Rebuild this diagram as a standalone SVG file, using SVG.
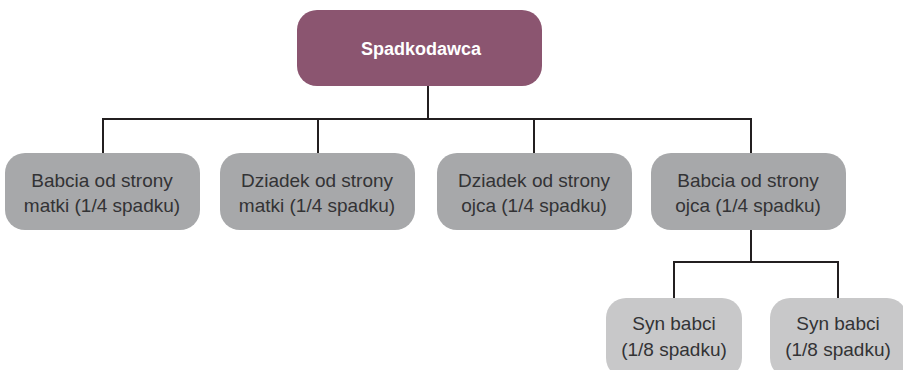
<svg xmlns="http://www.w3.org/2000/svg" width="903" height="370" viewBox="0 0 903 370">
<style>
.l2{fill:#a7a8aa}
.l3{fill:#c8c8c9}
.t{font-family:"Liberation Sans",Arial,sans-serif;font-size:19px;fill:#333335;text-anchor:middle}
.tb{font-family:"Liberation Sans",Arial,sans-serif;font-size:18px;font-weight:bold;fill:#ffffff;text-anchor:middle}
.c{fill:none;stroke:#231f20;stroke-width:2}
</style>
<rect width="903" height="370" fill="#ffffff"/>
<g id="connectors">
<path class="c" d="M428 86V119M103 153V119H751V153M318 119V153M534 119V153"/>
<path class="c" d="M751 229V262M674 298V262H838V298"/>
</g>
<g id="spadkodawca">
<rect x="297" y="10" width="245" height="76" rx="20" fill="#8b5570"/>
<text class="tb" x="421" y="55">Spadkodawca</text>
</g>
<g id="babcia-matki">
<rect class="l2" x="5" y="153" width="195" height="77" rx="20"/>
<text class="t" x="102" y="187">Babcia od strony</text>
<text class="t" x="102" y="212">matki (1/4 spadku)</text>
</g>
<g id="dziadek-matki">
<rect class="l2" x="220" y="153" width="195" height="77" rx="20"/>
<text class="t" x="317" y="187">Dziadek od strony</text>
<text class="t" x="317" y="212">matki (1/4 spadku)</text>
</g>
<g id="dziadek-ojca">
<rect class="l2" x="437" y="153" width="195" height="77" rx="20"/>
<text class="t" x="534" y="187">Dziadek od strony</text>
<text class="t" x="534" y="212">ojca (1/4 spadku)</text>
</g>
<g id="babcia-ojca">
<rect class="l2" x="651" y="153" width="195" height="77" rx="20"/>
<text class="t" x="748" y="187">Babcia od strony</text>
<text class="t" x="748" y="212">ojca (1/4 spadku)</text>
</g>
<g id="syn-babci-1">
<rect class="l3" x="606" y="298" width="136" height="80" rx="20"/>
<text class="t" x="674" y="330">Syn babci</text>
<text class="t" x="674" y="356">(1/8 spadku)</text>
</g>
<g id="syn-babci-2">
<rect class="l3" x="770" y="298" width="137" height="80" rx="20"/>
<text class="t" x="838" y="330">Syn babci</text>
<text class="t" x="838" y="356">(1/8 spadku)</text>
</g>
</svg>
